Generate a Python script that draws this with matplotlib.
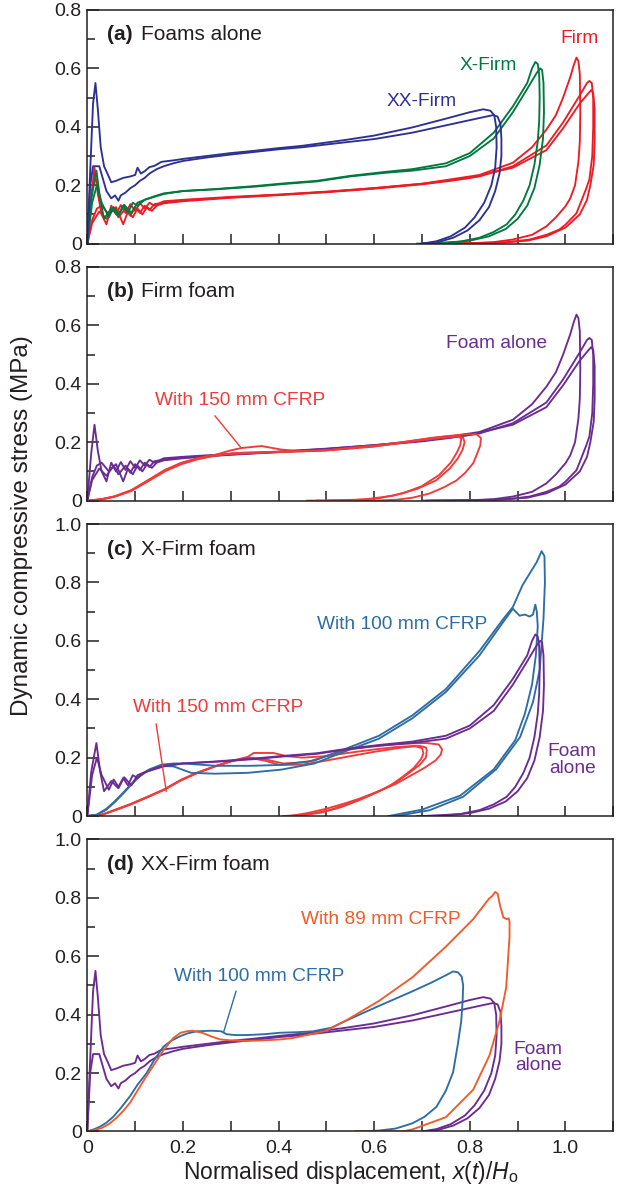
import matplotlib
matplotlib.use("Agg")
import matplotlib.pyplot as plt
from matplotlib.ticker import MultipleLocator

plt.rcParams["font.family"] = ["Liberation Sans", "DejaVu Sans"]
plt.rcParams["mathtext.fontset"] = "custom"
plt.rcParams["mathtext.rm"] = "Liberation Sans"
plt.rcParams["mathtext.it"] = "Liberation Sans:italic"

# ---- foam alone: Firm (three impacts) ----
firm1_x = [0, 0.008, 0.015, 0.022, 0.03, 0.04, 0.05, 0.06, 0.07, 0.08, 0.09, 0.1, 0.11, 0.12, 0.13, 0.14, 0.16,
           0.2, 0.25, 0.3, 0.4, 0.5, 0.6, 0.7, 0.76, 0.82, 0.89, 0.93, 0.96, 0.98, 0.995, 1.01, 1.017, 1.023,
           1.027, 1.03, 1.031, 1.03, 1.027, 1.02, 1.01, 1.0, 0.98, 0.96, 0.93, 0.89, 0.85, 0.8, 0.75, 0.7]
firm1_y = [0, 0.16, 0.26, 0.17, 0.1, 0.066, 0.13, 0.1, 0.132, 0.105, 0.135, 0.112, 0.138, 0.12, 0.14, 0.13, 0.145,
           0.15, 0.155, 0.16, 0.168, 0.178, 0.19, 0.205, 0.22, 0.235, 0.277, 0.33, 0.39, 0.44, 0.5, 0.57, 0.61, 0.637,
           0.625, 0.58, 0.45, 0.35, 0.28, 0.2, 0.155, 0.128, 0.09, 0.059, 0.03, 0.014, 0.005, 0.001, 0, 0]
firm2_x = [0, 0.01, 0.02, 0.03, 0.045, 0.06, 0.075, 0.085, 0.095, 0.105, 0.115, 0.125, 0.135, 0.145, 0.16, 0.2,
           0.3, 0.4, 0.5, 0.6, 0.7, 0.76, 0.82, 0.89, 0.96, 0.995, 1.03, 1.045, 1.05, 1.055, 1.058, 1.058, 1.056,
           1.05, 1.043, 1.023, 1.0, 0.987, 0.96, 0.925, 0.88, 0.8, 0.71]
firm2_y = [0, 0.08, 0.12, 0.13, 0.1, 0.125, 0.066, 0.11, 0.09, 0.12, 0.1, 0.125, 0.112, 0.13, 0.138, 0.145,
           0.157, 0.166, 0.176, 0.188, 0.203, 0.215, 0.23, 0.265, 0.336, 0.415, 0.508, 0.55, 0.557, 0.55, 0.5, 0.4,
           0.3, 0.22, 0.187, 0.104, 0.065, 0.048, 0.03, 0.014, 0.005, 0.001, 0]
firm3_x = [0, 0.01, 0.025, 0.04, 0.055, 0.065, 0.08, 0.09, 0.1, 0.11, 0.12, 0.13, 0.14, 0.16, 0.2, 0.3, 0.4, 0.5,
           0.6, 0.7, 0.8, 0.89, 0.96, 0.995, 1.03, 1.048, 1.054, 1.058, 1.061, 1.061, 1.059, 1.052, 1.045, 1.03,
           1.0, 0.96, 0.92, 0.85, 0.72]
firm3_y = [0, 0.07, 0.11, 0.085, 0.12, 0.09, 0.12, 0.095, 0.125, 0.105, 0.13, 0.115, 0.135, 0.14, 0.148, 0.158,
           0.167, 0.177, 0.19, 0.205, 0.225, 0.26, 0.32, 0.395, 0.48, 0.515, 0.526, 0.515, 0.46, 0.35, 0.27, 0.2,
           0.15, 0.1, 0.055, 0.025, 0.01, 0.002, 0]

# ---- foam alone: X-Firm (two impacts) ----
xfirm1_x = [0, 0.008, 0.019, 0.027, 0.035, 0.05, 0.065, 0.077, 0.092, 0.105, 0.12, 0.14, 0.16, 0.2, 0.27, 0.35,
            0.41, 0.48, 0.55, 0.62, 0.68, 0.75, 0.8, 0.85, 0.89, 0.92, 0.93, 0.937, 0.942, 0.945, 0.946, 0.945,
            0.942, 0.935, 0.925, 0.912, 0.895, 0.877, 0.85, 0.82, 0.78, 0.72, 0.69]
xfirm1_y = [0, 0.15, 0.25, 0.15, 0.085, 0.12, 0.095, 0.133, 0.105, 0.14, 0.15, 0.16, 0.17, 0.18, 0.187, 0.197,
            0.206, 0.215, 0.232, 0.245, 0.255, 0.275, 0.31, 0.38, 0.47, 0.55, 0.6, 0.622, 0.615, 0.58, 0.5, 0.42,
            0.35, 0.27, 0.2, 0.148, 0.1, 0.066, 0.04, 0.02, 0.007, 0.001, 0]
xfirm2_x = [0, 0.01, 0.02, 0.03, 0.045, 0.055, 0.065, 0.075, 0.085, 0.095, 0.105, 0.12, 0.14, 0.16, 0.2, 0.27,
            0.35, 0.41, 0.48, 0.55, 0.62, 0.68, 0.75, 0.8, 0.85, 0.89, 0.92, 0.94, 0.947, 0.951, 0.954, 0.955,
            0.953, 0.946, 0.935, 0.92, 0.9, 0.875, 0.84, 0.8, 0.75, 0.7]
xfirm2_y = [0, 0.14, 0.2, 0.14, 0.09, 0.125, 0.1, 0.13, 0.105, 0.14, 0.13, 0.15, 0.162, 0.172, 0.18, 0.186,
            0.195, 0.204, 0.213, 0.23, 0.242, 0.25, 0.265, 0.3, 0.36, 0.45, 0.53, 0.585, 0.6, 0.595, 0.55, 0.45,
            0.36, 0.27, 0.19, 0.13, 0.085, 0.05, 0.025, 0.01, 0.002, 0]

# ---- foam alone: XX-Firm (two impacts) ----
xxfirm1_x = [0, 0.006, 0.012, 0.017, 0.022, 0.028, 0.035, 0.042, 0.05, 0.06, 0.075, 0.09, 0.1, 0.105, 0.112,
             0.12, 0.13, 0.14, 0.155, 0.18, 0.2, 0.25, 0.3, 0.35, 0.4, 0.45, 0.54, 0.6, 0.68, 0.75, 0.8, 0.828,
             0.843, 0.851, 0.855, 0.856, 0.853, 0.845, 0.83, 0.81, 0.79, 0.76, 0.73, 0.7]
xxfirm1_y = [0, 0.25, 0.48, 0.55, 0.46, 0.33, 0.265, 0.24, 0.21, 0.215, 0.225, 0.23, 0.235, 0.26, 0.24, 0.248,
             0.262, 0.266, 0.28, 0.285, 0.29, 0.3, 0.31, 0.318, 0.327, 0.335, 0.355, 0.37, 0.398, 0.428, 0.45,
             0.46, 0.455, 0.44, 0.4, 0.33, 0.26, 0.2, 0.14, 0.09, 0.055, 0.025, 0.008, 0]
xxfirm2_x = [0, 0.006, 0.012, 0.025, 0.032, 0.04, 0.05, 0.058, 0.065, 0.07, 0.08, 0.09, 0.1, 0.11, 0.12, 0.13,
             0.145, 0.16, 0.18, 0.2, 0.25, 0.3, 0.35, 0.4, 0.45, 0.54, 0.6, 0.68, 0.75, 0.82, 0.84, 0.849, 0.858,
             0.864, 0.866, 0.866, 0.862, 0.853, 0.84, 0.82, 0.795, 0.765, 0.735, 0.705]
xxfirm2_y = [0, 0.2, 0.265, 0.265, 0.225, 0.18, 0.155, 0.165, 0.147, 0.165, 0.175, 0.19, 0.2, 0.215, 0.225, 0.24,
             0.255, 0.265, 0.275, 0.283, 0.295, 0.305, 0.314, 0.323, 0.33, 0.347, 0.358, 0.38, 0.405, 0.43, 0.437,
             0.44, 0.435, 0.41, 0.36, 0.3, 0.24, 0.18, 0.125, 0.08, 0.045, 0.02, 0.006, 0]

# ---- Firm foam with 150 mm CFRP (three impacts) ----
b150_1_x = [0, 0.03, 0.057, 0.092, 0.127, 0.162, 0.197, 0.232, 0.266, 0.3, 0.322, 0.364, 0.405, 0.44, 0.5, 0.545,
            0.61, 0.68, 0.72, 0.76, 0.775, 0.782, 0.78, 0.773, 0.76, 0.736, 0.7, 0.66, 0.61, 0.55, 0.46]
b150_1_y = [0, 0.005, 0.014, 0.035, 0.069, 0.104, 0.128, 0.145, 0.156, 0.172, 0.18, 0.187, 0.175, 0.17, 0.172,
            0.18, 0.19, 0.205, 0.215, 0.222, 0.222, 0.212, 0.19, 0.165, 0.13, 0.088, 0.05, 0.025, 0.008, 0.001, 0]
b150_2_x = [0, 0.03, 0.057, 0.092, 0.127, 0.162, 0.197, 0.232, 0.266, 0.3, 0.336, 0.405, 0.475, 0.545, 0.61, 0.68,
            0.74, 0.775, 0.786, 0.789, 0.785, 0.775, 0.758, 0.73, 0.69, 0.64, 0.58, 0.5]
b150_2_y = [0, 0.004, 0.013, 0.033, 0.066, 0.1, 0.125, 0.142, 0.153, 0.162, 0.165, 0.167, 0.17, 0.178, 0.188,
            0.203, 0.215, 0.22, 0.215, 0.2, 0.175, 0.145, 0.11, 0.07, 0.04, 0.017, 0.004, 0]
b150_3_x = [0, 0.03, 0.057, 0.092, 0.127, 0.162, 0.197, 0.232, 0.266, 0.3, 0.4, 0.5, 0.6, 0.68, 0.75, 0.79,
            0.814, 0.823, 0.822, 0.815, 0.807, 0.79, 0.772, 0.745, 0.715, 0.68, 0.646, 0.6, 0.48]
b150_3_y = [0, 0.005, 0.015, 0.036, 0.07, 0.105, 0.13, 0.146, 0.156, 0.16, 0.166, 0.172, 0.185, 0.205, 0.22,
            0.227, 0.227, 0.215, 0.19, 0.16, 0.128, 0.095, 0.069, 0.045, 0.024, 0.01, 0.003, 0.0, 0]

# ---- X-Firm foam with 150 mm CFRP (three impacts) ----
c150_1_x = [0, 0.03, 0.057, 0.09, 0.127, 0.16, 0.197, 0.23, 0.266, 0.3, 0.336, 0.348, 0.389, 0.417, 0.45, 0.5,
            0.54, 0.6, 0.65, 0.685, 0.7, 0.703, 0.698, 0.683, 0.66, 0.63, 0.59, 0.55, 0.51, 0.47, 0.44, 0.42]
c150_1_y = [0, 0.004, 0.02, 0.04, 0.066, 0.09, 0.124, 0.148, 0.17, 0.188, 0.203, 0.216, 0.216, 0.205, 0.2,
            0.205, 0.215, 0.228, 0.237, 0.24, 0.232, 0.215, 0.195, 0.165, 0.135, 0.1, 0.07, 0.045, 0.022, 0.008,
            0.002, 0]
c150_2_x = [0, 0.03, 0.057, 0.09, 0.127, 0.16, 0.197, 0.23, 0.266, 0.3, 0.336, 0.37, 0.403, 0.45, 0.5, 0.54, 0.6,
            0.66, 0.695, 0.708, 0.71, 0.708, 0.695, 0.675, 0.645, 0.61, 0.57, 0.53, 0.49, 0.45, 0.424]
c150_2_y = [0, 0.005, 0.021, 0.041, 0.067, 0.091, 0.125, 0.149, 0.17, 0.187, 0.2, 0.19, 0.175, 0.176, 0.19, 0.202,
            0.22, 0.235, 0.24, 0.235, 0.225, 0.2, 0.175, 0.15, 0.115, 0.085, 0.055, 0.03, 0.012, 0.003, 0]
c150_3_x = [0, 0.03, 0.057, 0.09, 0.127, 0.16, 0.197, 0.23, 0.266, 0.3, 0.336, 0.37, 0.41, 0.46, 0.54, 0.6, 0.66,
            0.71, 0.735, 0.742, 0.739, 0.728, 0.705, 0.678, 0.645, 0.609, 0.57, 0.54, 0.5, 0.46, 0.43, 0.41]
c150_3_y = [0, 0.004, 0.019, 0.039, 0.065, 0.089, 0.123, 0.147, 0.169, 0.187, 0.2, 0.195, 0.18, 0.185, 0.226,
            0.24, 0.248, 0.25, 0.245, 0.228, 0.21, 0.19, 0.165, 0.14, 0.11, 0.085, 0.06, 0.044, 0.025, 0.01, 0.002, 0]

# ---- X-Firm foam with 100 mm CFRP (two impacts) ----
c100_1_x = [0, 0.02, 0.04, 0.057, 0.075, 0.092, 0.11, 0.13, 0.155, 0.18, 0.2, 0.27, 0.34, 0.405, 0.475, 0.54,
            0.61, 0.68, 0.75, 0.82, 0.87, 0.89, 0.91, 0.94, 0.95, 0.956, 0.957, 0.954, 0.946, 0.932, 0.905, 0.855,
            0.786, 0.716, 0.646]
c100_1_y = [0, 0.005, 0.025, 0.05, 0.08, 0.11, 0.14, 0.16, 0.176, 0.18, 0.18, 0.172, 0.172, 0.175, 0.19, 0.23,
            0.275, 0.345, 0.435, 0.565, 0.675, 0.716, 0.79, 0.87, 0.907, 0.89, 0.8, 0.676, 0.5, 0.39, 0.27, 0.16,
            0.066, 0.02, 0]
c100_2_x = [0, 0.02, 0.04, 0.057, 0.075, 0.092, 0.11, 0.13, 0.155, 0.18, 0.217, 0.266, 0.336, 0.406, 0.475, 0.54,
            0.61, 0.68, 0.75, 0.82, 0.87, 0.89, 0.904, 0.915, 0.925, 0.932, 0.937, 0.94, 0.942, 0.938, 0.93, 0.915,
            0.895, 0.85, 0.78, 0.7, 0.63]
c100_2_y = [0, 0.004, 0.022, 0.047, 0.077, 0.107, 0.137, 0.158, 0.172, 0.17, 0.148, 0.145, 0.148, 0.159, 0.18,
            0.222, 0.265, 0.335, 0.425, 0.55, 0.665, 0.71, 0.686, 0.69, 0.683, 0.69, 0.724, 0.7, 0.65, 0.55, 0.45,
            0.35, 0.26, 0.16, 0.07, 0.022, 0]

# ---- XX-Firm foam with 100 mm and 89 mm CFRP ----
d100_x = [0, 0.015, 0.027, 0.04, 0.054, 0.07, 0.089, 0.105, 0.124, 0.14, 0.159, 0.175, 0.194, 0.21, 0.229, 0.26,
          0.28, 0.291, 0.31, 0.333, 0.37, 0.403, 0.44, 0.472, 0.51, 0.542, 0.61, 0.68, 0.72, 0.75, 0.765, 0.775,
          0.783, 0.786, 0.785, 0.782, 0.775, 0.765, 0.75, 0.73, 0.705, 0.68, 0.645, 0.61, 0.58, 0.56]
d100_y = [0, 0.008, 0.017, 0.03, 0.05, 0.08, 0.12, 0.16, 0.2, 0.245, 0.29, 0.31, 0.326, 0.336, 0.343, 0.345,
          0.343, 0.333, 0.33, 0.33, 0.333, 0.338, 0.34, 0.343, 0.355, 0.38, 0.43, 0.48, 0.51, 0.535, 0.548, 0.545,
          0.53, 0.5, 0.45, 0.378, 0.3, 0.203, 0.14, 0.084, 0.05, 0.028, 0.01, 0.003, 0.001, 0]
d89_x = [0, 0.015, 0.03, 0.045, 0.06, 0.075, 0.09, 0.105, 0.12, 0.14, 0.16, 0.18, 0.195, 0.208, 0.22, 0.24, 0.26,
         0.278, 0.3, 0.333, 0.37, 0.403, 0.43, 0.459, 0.5, 0.541, 0.61, 0.68, 0.75, 0.807, 0.84, 0.846, 0.853, 0.858,
         0.863, 0.87, 0.877, 0.881, 0.883, 0.883, 0.876, 0.862, 0.841, 0.807, 0.75, 0.68, 0.66, 0.56]
d89_y = [0, 0.005, 0.012, 0.025, 0.045, 0.07, 0.1, 0.14, 0.18, 0.23, 0.28, 0.32, 0.338, 0.343, 0.345, 0.338, 0.325,
         0.315, 0.312, 0.31, 0.312, 0.315, 0.32, 0.33, 0.345, 0.38, 0.447, 0.528, 0.633, 0.727, 0.797, 0.805, 0.82,
         0.815, 0.775, 0.733, 0.727, 0.73, 0.72, 0.668, 0.493, 0.378, 0.26, 0.143, 0.049, 0.007, 0, 0]

y_ticks_short = [0, 0.2, 0.4, 0.6, 0.8]
y_labels_short = ["0", "0.2", "0.4", "0.6", "0.8"]
y_ticks_tall = [0, 0.2, 0.4, 0.6, 0.8, 1.0]
y_labels_tall = ["0", "0.2", "0.4", "0.6", "0.8", "1.0"]
x_ticks = [0, 0.2, 0.4, 0.6, 0.8, 1.0]
x_labels = ["0", "0.2", "0.4", "0.6", "0.8", "1.0"]

RED = "#ED1C24"
GREEN = "#00783F"
NAVY = "#2E3192"
PURPLE = "#6B2C91"
CFRP_RED = "#EF3B39"
STEEL = "#2E6DA4"
ORANGE = "#F15A29"
LW = 1.35

fig = plt.figure(figsize=(6.18, 11.89), dpi=100)
gs = fig.add_gridspec(4, 1, height_ratios=[0.8, 0.8, 1, 1], hspace=0.089,
                      left=0.1413, right=0.9924, top=0.9916, bottom=0.0484)
axes = [fig.add_subplot(gs[i]) for i in range(4)]

firm = [(firm1_x, firm1_y), (firm2_x, firm2_y), (firm3_x, firm3_y)]
xfirm = [(xfirm1_x, xfirm1_y), (xfirm2_x, xfirm2_y)]
xxfirm = [(xxfirm1_x, xxfirm1_y), (xxfirm2_x, xxfirm2_y)]


def draw(ax, loops, color):
    for xs, ys in loops:
        ax.plot(xs, ys, color=color, lw=LW, solid_joinstyle="round")


def panel_title(ax, tag, text):
    ax.annotate(tag, xy=(0, 1), xycoords="axes fraction", xytext=(20, -25),
                textcoords="offset pixels", fontsize=15, fontweight="bold", va="center", ha="left",
                color="#231F20")
    ax.annotate(text, xy=(0, 1), xycoords="axes fraction", xytext=(54, -25),
                textcoords="offset pixels", fontsize=15, va="center", ha="left", color="#231F20")


# (a) foams alone
ax = axes[0]
draw(ax, firm, RED)
draw(ax, xfirm, GREEN)
draw(ax, xxfirm, NAVY)
ax.text(0.70, 0.487, "XX-Firm", color=NAVY, fontsize=13.8, ha="center", va="center")
ax.text(0.838, 0.609, "X-Firm", color=GREEN, fontsize=13.8, ha="center", va="center")
ax.text(1.03, 0.701, "Firm", color=RED, fontsize=13.8, ha="center", va="center")
panel_title(ax, "(a)", "Foams alone")

# (b) Firm foam
ax = axes[1]
draw(ax, firm, PURPLE)
draw(ax, [(b150_1_x, b150_1_y), (b150_2_x, b150_2_y), (b150_3_x, b150_3_y)], CFRP_RED)
ax.text(0.855, 0.539, "Foam alone", color=PURPLE, fontsize=13.8, ha="center", va="center")
ax.text(0.32, 0.344, "With 150 mm CFRP", color=CFRP_RED, fontsize=13.8, ha="center", va="center")
ax.plot([0.267, 0.321], [0.29, 0.182], color=CFRP_RED, lw=1.0)
panel_title(ax, "(b)", "Firm foam")

# (c) X-Firm foam
ax = axes[2]
draw(ax, [(c150_1_x, c150_1_y), (c150_2_x, c150_2_y), (c150_3_x, c150_3_y)], CFRP_RED)
draw(ax, [(c100_1_x, c100_1_y), (c100_2_x, c100_2_y)], STEEL)
draw(ax, xfirm, PURPLE)
ax.text(0.658, 0.655, "With 100 mm CFRP", color=STEEL, fontsize=13.8, ha="center", va="center")
ax.text(0.273, 0.37, "With 150 mm CFRP", color=CFRP_RED, fontsize=13.8, ha="center", va="center")
ax.plot([0.144, 0.165], [0.315, 0.085], color=CFRP_RED, lw=1.0)
ax.text(1.014, 0.192, "Foam\nalone", color=PURPLE, fontsize=13.8, ha="center", va="center", linespacing=0.95)
panel_title(ax, "(c)", "X-Firm foam")

# (d) XX-Firm foam
ax = axes[3]
draw(ax, xxfirm, PURPLE)
draw(ax, [(d100_x, d100_y)], STEEL)
draw(ax, [(d89_x, d89_y)], ORANGE)
ax.text(0.359, 0.531, "With 100 mm CFRP", color=STEEL, fontsize=13.8, ha="center", va="center")
ax.plot([0.311, 0.285], [0.48, 0.34], color=STEEL, lw=1.0)
ax.text(0.614, 0.727, "With 89 mm CFRP", color=ORANGE, fontsize=13.8, ha="center", va="center")
ax.text(0.943, 0.253, "Foam\nalone", color=PURPLE, fontsize=13.8, ha="center", va="center", linespacing=0.95)
panel_title(ax, "(d)", "XX-Firm foam")

for i, ax in enumerate(axes):
    ax.set_xlim(0, 1.1)
    if i < 2:
        ax.set_ylim(0, 0.8)
        ax.set_yticks(y_ticks_short, y_labels_short)
    else:
        ax.set_ylim(0, 1.0)
        ax.set_yticks(y_ticks_tall, y_labels_tall)
    ax.yaxis.set_minor_locator(MultipleLocator(0.1))
    ax.set_xticks(x_ticks, x_labels if i == 3 else [""] * len(x_ticks))
    ax.xaxis.set_minor_locator(MultipleLocator(0.1))
    ax.tick_params(axis="both", which="both", direction="in", width=1.1, color="#231F20",
                   labelsize=14, labelcolor="#231F20")
    ax.tick_params(axis="y", which="major", length=8.5, pad=4)
    ax.tick_params(axis="y", which="minor", length=5.5)
    ax.tick_params(axis="x", which="both", length=7, pad=6)
    for sp in ax.spines.values():
        sp.set_linewidth(1.1)
        sp.set_color("#231F20")

fig.text(0.036, 0.558, "Dynamic compressive stress (MPa)", rotation=90, fontsize=17.5,
         ha="center", va="center", color="#231F20")
fig.text(0.567, 0.0135, r"Normalised displacement, $\mathit{x}$($\mathit{t}$)/$\mathit{H}_\mathrm{o}$",
         fontsize=16.5, ha="center", va="center", color="#231F20")

fig.savefig("out.png", dpi=100)
